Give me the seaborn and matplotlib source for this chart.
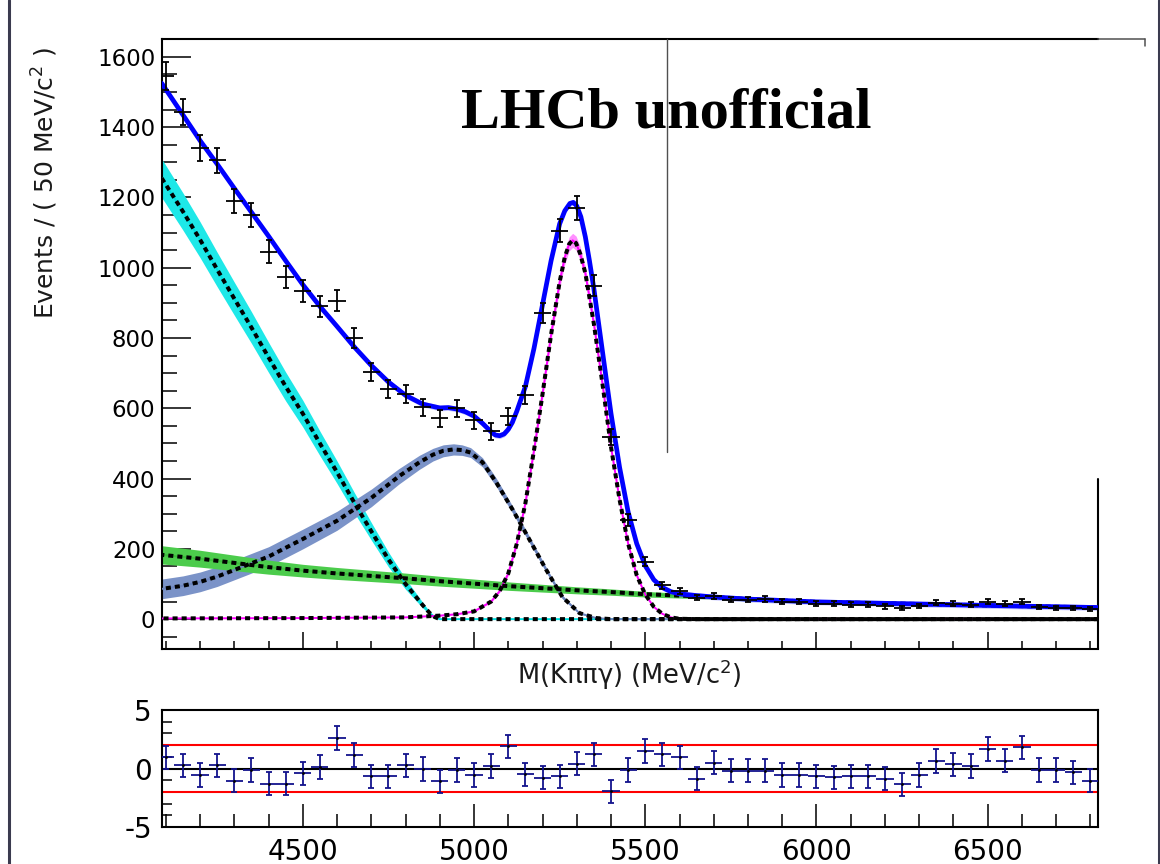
import numpy as np
import matplotlib
matplotlib.use("Agg")
import matplotlib.pyplot as plt
from matplotlib.lines import Line2D
from matplotlib.ticker import MultipleLocator, NullFormatter
import seaborn as sns

sns.set_theme(style="ticks")
plt.rcParams["font.family"] = ["DejaVu Sans"]
plt.rcParams["axes.unicode_minus"] = False
plt.rcParams["text.color"] = "black"
plt.rcParams["xtick.color"] = "black"
plt.rcParams["ytick.color"] = "black"

# Data: 50 MeV bins, events and pulls
mass = np.arange(4100, 6801, 50)
events = [1545, 1443, 1340, 1306, 1189, 1149, 1046, 974, 934, 891,
          906, 800, 703, 654, 640, 603, 571, 600, 566, 534,
          577, 637, 871, 1106, 1169, 949, 517, 283, 163, 97,
          80, 61, 66, 55, 55, 57, 50, 50, 44, 44,
          41, 41, 36, 33, 38, 47, 44, 41, 50, 44,
          50, 35, 33, 32, 28]
pulls = [0.96, 0.27, -0.55, 0.27, -1.04, -0.14, -1.3, -1.3, -0.41, 0.14,
         2.6, 1.15, -0.68, -0.68, 0.27, -0.05, -1.1, -0.14, -0.55, 0.22,
         1.9, -0.49, -0.77, -0.68, 0.41, 1.2, -1.96, -0.14, 1.5, 1.22,
         0.95, -0.87, 0.49, -0.19, -0.19, -0.19, -0.54, -0.54, -0.68, -0.76,
         -0.68, -0.68, -0.87, -1.36, -0.54, 0.63, 0.35, 0.22, 1.68, 0.68,
         1.82, -0.14, -0.14, -0.33, -1.03]

# Total fit
fit_x = [4088, 4150, 4200, 4250, 4300, 4350, 4400, 4450, 4500, 4550,
         4600, 4650, 4700, 4750, 4800, 4850, 4900, 4925, 4950, 4975,
         5000, 5025, 5050, 5062, 5075, 5088, 5100, 5112, 5125, 5150,
         5175, 5200, 5225, 5250, 5265, 5280, 5290, 5300, 5312, 5325,
         5337, 5350, 5375, 5400, 5425, 5450, 5475, 5500, 5525, 5550,
         5575, 5600, 5650, 5700, 5800, 5900, 6000, 6200, 6400, 6600,
         6822]
fit_y = [1525, 1435, 1362, 1295, 1226, 1158, 1090, 1020, 952, 890,
         833, 775, 722, 675, 637, 612, 601, 602, 598, 590,
         578, 557, 533, 524, 522, 527, 540, 560, 592, 662,
         770, 895, 1020, 1125, 1162, 1183, 1186, 1176, 1145, 1088,
         1020, 940, 762, 585, 432, 305, 215, 152, 112, 90,
         78, 72, 67, 63, 57, 53, 49, 45, 41, 37,
         33]

# Components
cyan_x = [4088, 4150, 4200, 4250, 4300, 4350, 4400, 4450, 4500, 4550,
          4600, 4650, 4700, 4750, 4800, 4850, 4870, 4885, 4900, 6822]
cyan_y = [1255, 1160, 1080, 995, 912, 830, 745, 662, 585, 500,
          418, 332, 250, 170, 100, 40, 18, 6, 0, 0]
cyan_err = [55, 53, 51, 49, 47, 45, 43, 41, 38, 35,
            32, 29, 25, 21, 15, 8, 4, 2, 0, 0]

grey_x = [4088, 4150, 4200, 4250, 4300, 4400, 4500, 4600, 4700, 4780, 4840, 4880,
          4910, 4940, 4965, 4990, 5025, 5065, 5113, 5162, 5211, 5258, 5308, 5357,
          5400, 6822]
grey_y = [86, 95, 106, 121, 140, 178, 228, 280, 345, 406, 446, 468,
          479, 483, 481, 474, 446, 389, 311, 226, 140, 63, 17, 3,
          0, 0]
grey_err = [28, 28, 28, 28, 28, 28, 28, 27, 25, 22, 20, 18,
            17, 16, 15, 14, 13, 12, 10, 9, 7, 5, 2, 1,
            0, 0]

green_x = [4088, 4200, 4300, 4400, 4500, 4600, 4700, 4800, 4900, 5000, 5100, 5200,
           5300, 5400, 5500, 5600, 5700, 5800, 5900, 6000, 6200, 6400, 6600, 6822]
green_y = [183, 172, 160, 148, 138, 130, 123, 116, 108, 101, 94, 88,
           82, 77, 71, 67, 63, 57, 53, 49, 45, 41, 37, 33]
green_err = [26, 24, 22, 20, 18, 17, 16, 15, 14, 13, 12, 11,
             10, 9, 8, 7, 6, 6, 5, 5, 5, 4, 4, 4]

sig_x = [4088, 4500, 4800, 4900, 4950, 5000, 5050, 5075, 5100, 5125, 5150,
         5175, 5200, 5225, 5250, 5265, 5278, 5288, 5298, 5310, 5325, 5350,
         5375, 5400, 5425, 5450, 5475, 5500, 5525, 5550, 5575, 5600, 5650, 6822]
sig_y = [2, 3, 5, 10, 14, 22, 50, 80, 130, 215, 330,
         480, 640, 810, 960, 1030, 1068, 1078, 1070, 1040, 985, 840,
         670, 490, 340, 215, 125, 70, 35, 15, 5, 1, 0, 0]
sig_err = [0, 0, 0, 1, 1, 2, 3, 4, 6, 8, 10,
           13, 15, 17, 19, 20, 20, 20, 20, 20, 19, 17,
           15, 12, 10, 7, 5, 3, 2, 1, 0, 0, 0, 0]

W, H = 1160, 864
fig = plt.figure(figsize=(W / 100, H / 100), dpi=100)
fig.patch.set_facecolor("white")
ax = fig.add_axes([161.7 / W, 1 - 649 / H, (1098 - 161.7) / W, 610 / H])
ax2 = fig.add_axes([161.7 / W, 1 - 827 / H, (1098 - 161.7) / W, 117 / H])

comps = [
    (cyan_x, cyan_y, cyan_err, "#1ee8e8", "#00e0e0", 0),
    (grey_x, grey_y, grey_err, "#7b93c8", "#6b84bd", 1.2),
    (green_x, green_y, green_err, "#4ccc4c", "#3cbc3c", 0.6),
    (sig_x, sig_y, sig_err, "#ff90ff", "#ff00ff", 1.8),
]
for cx, cy, ce, band, line, off in comps:
    cy = np.array(cy)
    ce = np.array(ce)
    ax.fill_between(cx, cy - ce, cy + ce, color=band, lw=0, zorder=1)
    sns.lineplot(x=cx, y=cy, ax=ax, color=line, lw=1.4, zorder=3)
    ax.plot(cx, cy, color="black", lw=2.9, linestyle=(off, (1.25, 1.0)),
            solid_capstyle="butt", zorder=4)

fy = np.array(fit_y)
ax.fill_between(fit_x, fy - 8, fy + 8, color="#9a9aff", lw=0, alpha=0.6, zorder=2)
sns.lineplot(x=fit_x, y=fit_y, ax=ax, color="#0000ff", lw=3.4, zorder=5)

yerr = np.sqrt(events)
ax.errorbar(mass, events, yerr=yerr, fmt="none", ecolor="black",
            elinewidth=1.3, capsize=2.5, capthick=1.3, zorder=6)
ax.errorbar(mass, events, xerr=25, fmt="none", ecolor="black",
            elinewidth=1.3, capsize=0, zorder=6)

ax.set_xlim(4088, 6822)
ax.set_ylim(-85, 1651)
ax.yaxis.set_major_locator(MultipleLocator(200))
ax.yaxis.set_minor_locator(MultipleLocator(50))
ax.xaxis.set_major_locator(MultipleLocator(500))
ax.xaxis.set_minor_locator(MultipleLocator(100))
ax.xaxis.set_major_formatter(NullFormatter())
ax.tick_params(axis="y", which="major", direction="in", length=21, width=1.1,
               labelsize=16.5, pad=4.5, right=False)
ax.tick_params(axis="y", which="minor", direction="in", length=11, width=1.1, right=False)
ax.tick_params(axis="x", which="major", direction="in", length=12, width=1.1, top=False)
ax.tick_params(axis="x", which="minor", direction="in", length=6, width=1.1, top=False)
ax.set_xlabel("")
ax.set_ylabel("")
for s in ["left", "bottom", "top"]:
    ax.spines[s].set_linewidth(1.5)
    ax.spines[s].set_color("black")
ax.spines["right"].set_visible(False)
ax.add_line(Line2D([1, 1], [0, (649 - 479) / 610], transform=ax.transAxes,
                   color="black", lw=1.5, clip_on=False))

# pull panel
ax2.axhline(0, color="black", lw=1.5, zorder=2)
ax2.axhline(2, color="red", lw=1.5, zorder=2)
ax2.axhline(-2, color="red", lw=1.5, zorder=2)
ax2.errorbar(mass, pulls, yerr=1, fmt="none", ecolor="#12128c",
             elinewidth=1.3, capsize=2.5, capthick=1.3, zorder=3)
ax2.errorbar(mass, pulls, xerr=25, fmt="none", ecolor="#12128c",
             elinewidth=1.3, capsize=0, zorder=3)
sns.scatterplot(x=mass, y=pulls, ax=ax2, color="black", s=4, linewidth=0, zorder=4)
ax2.set_xlim(4088, 6822)
ax2.set_ylim(-5, 5)
ax2.set_yticks([-5, 0, 5])
ax2.yaxis.set_minor_locator(MultipleLocator(1))
ax2.xaxis.set_major_locator(MultipleLocator(500))
ax2.xaxis.set_minor_locator(MultipleLocator(100))
ax2.tick_params(axis="y", which="major", direction="in", length=9, width=1.1,
                labelsize=20, pad=7, right=False)
ax2.tick_params(axis="y", which="minor", direction="in", length=7, width=1.1, right=False)
ax2.tick_params(axis="x", which="major", direction="in", length=16.5, width=1.1,
                labelsize=20, pad=8, top=False)
ax2.tick_params(axis="x", which="minor", direction="in", length=9.5, width=1.1, top=False)
ax2.set_xlabel("")
ax2.set_ylabel("")
for s in ax2.spines.values():
    s.set_linewidth(1.5)
    s.set_color("black")

# titles and labels
fig.text(45 / W, 1 - 183 / H, "Events / ( 50 MeV/c$^{2}$ )", rotation=90,
         ha="center", va="center", fontsize=18, color="#1a1a1a")
fig.text(629 / W, 1 - 675 / H, "M(K\u03c0\u03c0\u03b3) (MeV/c$^{2}$)",
         ha="center", va="center", fontsize=18.5, color="#1a1a1a")
fig.text(666 / W, 1 - 127 / H, "LHCb unofficial", ha="center", va="baseline",
         fontsize=42, fontweight="bold", color="black",
         family=["Liberation Serif", "DejaVu Serif"])

# stray frame lines from the screenshot
grey = "#505050"
fig.add_artist(Line2D([1098 / W, 1145 / W], [1 - 39 / H] * 2, color=grey, lw=1.1))
fig.add_artist(Line2D([1145 / W] * 2, [1 - 39 / H, 1 - 46 / H], color=grey, lw=1.1))
fig.add_artist(Line2D([666.5 / W] * 2, [1 - 39 / H, 1 - 452 / H], color=grey, lw=1.0))
fig.add_artist(Line2D([9 / W] * 2, [0, 1], color="#3b3b4f", lw=2.2))
fig.add_artist(Line2D([1158.5 / W] * 2, [0, 1], color="#3b3b4f", lw=2.2))

fig.savefig("out.png", dpi=100)
